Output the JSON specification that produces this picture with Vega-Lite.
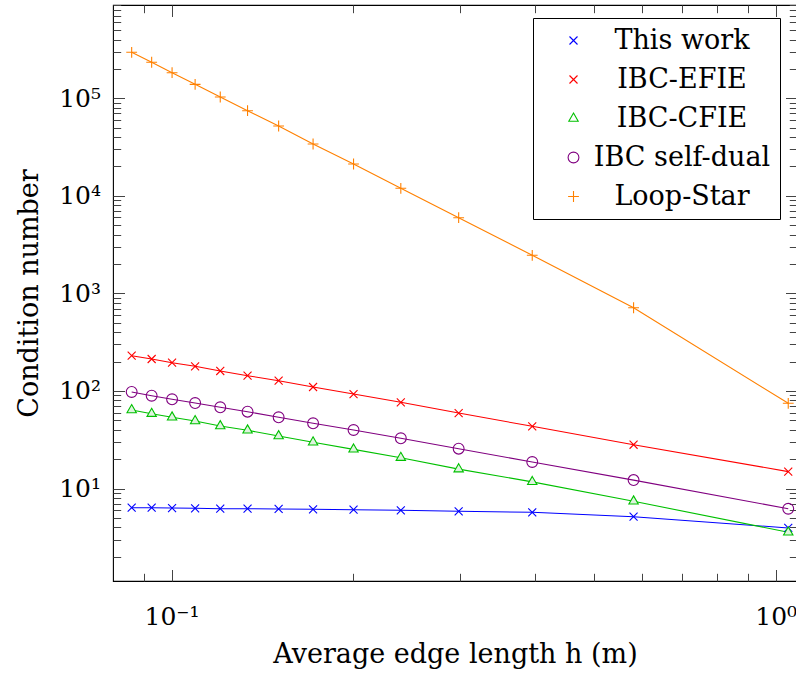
{
  "$schema": "https://vega.github.io/schema/vega-lite/v6.json",
  "autosize": {"type": "none"},
  "width": 684,
  "height": 576,
  "padding": {"left": 113, "top": 5, "right": 0, "bottom": 92},
  "background": "white",
  "config": {
    "view": {"stroke": "#000000", "strokeWidth": 1.1},
    "font": "DejaVu Serif",
    "axis": {"domain": false, "grid": false, "tickColor": "#444444", "tickWidth": 1, "labelFont": "DejaVu Serif", "titleFont": "DejaVu Serif", "labelColor": "#000000", "titleColor": "#000000", "titleFontWeight": "normal"}
  },
  "data": {
    "values": [
      {"series": "This work", "h": 0.0859, "k": 6.36},
      {"series": "This work", "h": 0.0927, "k": 6.36},
      {"series": "This work", "h": 0.1002, "k": 6.31},
      {"series": "This work", "h": 0.1094, "k": 6.27},
      {"series": "This work", "h": 0.1204, "k": 6.21},
      {"series": "This work", "h": 0.1336, "k": 6.21},
      {"series": "This work", "h": 0.1504, "k": 6.17},
      {"series": "This work", "h": 0.1715, "k": 6.12},
      {"series": "This work", "h": 0.2001, "k": 6.06},
      {"series": "This work", "h": 0.2396, "k": 5.98},
      {"series": "This work", "h": 0.2987, "k": 5.84},
      {"series": "This work", "h": 0.3954, "k": 5.70},
      {"series": "This work", "h": 0.5818, "k": 5.14},
      {"series": "This work", "h": 1.049, "k": 3.94},
      {"series": "IBC-EFIE", "h": 0.0859, "k": 229.8},
      {"series": "IBC-EFIE", "h": 0.0927, "k": 212.6},
      {"series": "IBC-EFIE", "h": 0.1002, "k": 194.8},
      {"series": "IBC-EFIE", "h": 0.1094, "k": 178.9},
      {"series": "IBC-EFIE", "h": 0.1204, "k": 160.2},
      {"series": "IBC-EFIE", "h": 0.1336, "k": 143.3},
      {"series": "IBC-EFIE", "h": 0.1504, "k": 127.4},
      {"series": "IBC-EFIE", "h": 0.1715, "k": 109.8},
      {"series": "IBC-EFIE", "h": 0.2001, "k": 93.0},
      {"series": "IBC-EFIE", "h": 0.2396, "k": 76.5},
      {"series": "IBC-EFIE", "h": 0.2987, "k": 59.4},
      {"series": "IBC-EFIE", "h": 0.3954, "k": 43.4},
      {"series": "IBC-EFIE", "h": 0.5818, "k": 28.1},
      {"series": "IBC-EFIE", "h": 1.049, "k": 14.9},
      {"series": "IBC-CFIE", "h": 0.0859, "k": 63.8},
      {"series": "IBC-CFIE", "h": 0.0927, "k": 58.5},
      {"series": "IBC-CFIE", "h": 0.1002, "k": 53.7},
      {"series": "IBC-CFIE", "h": 0.1094, "k": 49.2},
      {"series": "IBC-CFIE", "h": 0.1204, "k": 43.7},
      {"series": "IBC-CFIE", "h": 0.1336, "k": 39.5},
      {"series": "IBC-CFIE", "h": 0.1504, "k": 34.5},
      {"series": "IBC-CFIE", "h": 0.1715, "k": 29.8},
      {"series": "IBC-CFIE", "h": 0.2001, "k": 25.2},
      {"series": "IBC-CFIE", "h": 0.2396, "k": 20.7},
      {"series": "IBC-CFIE", "h": 0.2987, "k": 15.8},
      {"series": "IBC-CFIE", "h": 0.3954, "k": 11.7},
      {"series": "IBC-CFIE", "h": 0.5818, "k": 7.4},
      {"series": "IBC-CFIE", "h": 1.049, "k": 3.56},
      {"series": "IBC self-dual", "h": 0.0859, "k": 97.6},
      {"series": "IBC self-dual", "h": 0.0927, "k": 89.4},
      {"series": "IBC self-dual", "h": 0.1002, "k": 82.1},
      {"series": "IBC self-dual", "h": 0.1094, "k": 75.2},
      {"series": "IBC self-dual", "h": 0.1204, "k": 68.0},
      {"series": "IBC self-dual", "h": 0.1336, "k": 61.3},
      {"series": "IBC self-dual", "h": 0.1504, "k": 53.7},
      {"series": "IBC self-dual", "h": 0.1715, "k": 46.6},
      {"series": "IBC self-dual", "h": 0.2001, "k": 39.8},
      {"series": "IBC self-dual", "h": 0.2396, "k": 32.7},
      {"series": "IBC self-dual", "h": 0.2987, "k": 25.6},
      {"series": "IBC self-dual", "h": 0.3954, "k": 18.7},
      {"series": "IBC self-dual", "h": 0.5818, "k": 12.2},
      {"series": "IBC self-dual", "h": 1.049, "k": 6.2},
      {"series": "Loop-Star", "h": 0.0859, "k": 296000},
      {"series": "Loop-Star", "h": 0.0927, "k": 234000},
      {"series": "Loop-Star", "h": 0.1002, "k": 183000},
      {"series": "Loop-Star", "h": 0.1094, "k": 139000},
      {"series": "Loop-Star", "h": 0.1204, "k": 103000},
      {"series": "Loop-Star", "h": 0.1336, "k": 74600},
      {"series": "Loop-Star", "h": 0.1504, "k": 52000},
      {"series": "Loop-Star", "h": 0.1715, "k": 34000},
      {"series": "Loop-Star", "h": 0.2001, "k": 21200},
      {"series": "Loop-Star", "h": 0.2396, "k": 11950},
      {"series": "Loop-Star", "h": 0.2987, "k": 5970},
      {"series": "Loop-Star", "h": 0.3954, "k": 2458},
      {"series": "Loop-Star", "h": 0.5818, "k": 713},
      {"series": "Loop-Star", "h": 1.049, "k": 74.7}
    ]
  },
  "resolve": {"axis": {"x": "independent", "y": "independent"}},
  "layer": [
    {
      "mark": {"type": "line", "strokeWidth": 1.1},
      "encoding": {
        "x": {"field": "h", "type": "quantitative",
          "scale": {"type": "log", "domain": [0.08, 1.0846], "nice": false},
          "axis": {"orient": "bottom", "values": [0.1, 1], "tickSize": -11.5, "labelPadding": 35,
            "labelExpr": "datum.value < 0.5 ? '10⁻¹' : '10⁰'", "labelFontSize": 25, "labelFlush": false,
            "title": "Average edge length h (m)", "titleFontSize": 27, "titlePadding": 12}},
        "y": {"field": "k", "type": "quantitative",
          "scale": {"type": "log", "domain": [1.127, 904000], "nice": false},
          "axis": {"orient": "left", "values": [10, 100, 1000, 10000, 100000], "tickSize": -11.5, "labelPadding": 24,
            "labelExpr": "'10' + ['⁰','¹','²','³','⁴','⁵'][round(log(datum.value)/LN10)]", "labelFontSize": 25, "labelFlush": false,
            "title": "Condition number", "titleFontSize": 27, "titlePadding": 15}},
        "color": {"field": "series", "type": "nominal",
          "scale": {"domain": ["This work", "IBC-EFIE", "IBC-CFIE", "IBC self-dual", "Loop-Star"],
                    "range": ["#0000ff", "#ff0000", "#00c000", "#800080", "#ff8000"]},
          "legend": {"orient": "none", "legendX": 420, "legendY": 13, "direction": "vertical", "title": null,
            "fillColor": "#ffffff", "strokeColor": "#000000", "padding": 9,
            "symbolSize": 117, "symbolStrokeWidth": 1.1, "symbolOffset": 18, "rowPadding": 11,
            "labelFont": "DejaVu Serif", "labelFontSize": 27, "labelAlign": "center", "labelOffset": 95, "labelLimit": 0, "labelColor": "#000000"}}
      }
    },
    {
      "mark": {"type": "point", "filled": false, "strokeWidth": 1.1, "opacity": 1},
      "encoding": {
        "x": {"field": "h", "type": "quantitative",
          "axis": {"orient": "bottom", "values": [0.09, 0.2, 0.3, 0.4, 0.5, 0.6, 0.7, 0.8, 0.9], "tickSize": -7.7, "labels": false, "title": null}},
        "y": {"field": "k", "type": "quantitative",
          "axis": {"orient": "left", "values": [2,3,4,5,6,7,8,9,20,30,40,50,60,70,80,90,200,300,400,500,600,700,800,900,2000,3000,4000,5000,6000,7000,8000,9000,20000,30000,40000,50000,60000,70000,80000,90000,200000,300000,400000,500000,600000,700000,800000,900000], "tickSize": -7.7, "labels": false, "title": null}},
        "color": {"field": "series", "type": "nominal", "legend": null},
        "shape": {"field": "series", "type": "nominal", "legend": null,
          "scale": {"domain": ["This work", "IBC-EFIE", "IBC-CFIE", "IBC self-dual", "Loop-Star"],
                    "range": ["M-0.74,-0.74L0.74,0.74M-0.74,0.74L0.74,-0.74", "M-0.74,-0.74L0.74,0.74M-0.74,0.74L0.74,-0.74", "M0,-1L0.866,0.5L-0.866,0.5Z", "circle", "M-1,0H1M0,-1V1"]}},
        "size": {"value": 117},
        "fill": {"condition": {"test": "datum.series === 'IBC-CFIE'", "value": "#dff3df"}, "value": "transparent"}
      }
    },
    {
      "mark": {"type": "point", "opacity": 0},
      "encoding": {
        "x": {"field": "h", "type": "quantitative",
          "axis": {"orient": "top", "values": [0.1, 1], "tickSize": -11.5, "labels": false, "title": null}},
        "y": {"field": "k", "type": "quantitative",
          "axis": {"orient": "right", "values": [10, 100, 1000, 10000, 100000], "tickSize": -11.5, "labels": false, "title": null}}
      }
    },
    {
      "mark": {"type": "point", "opacity": 0},
      "encoding": {
        "x": {"field": "h", "type": "quantitative",
          "axis": {"orient": "top", "values": [0.09, 0.2, 0.3, 0.4, 0.5, 0.6, 0.7, 0.8, 0.9], "tickSize": -7.7, "labels": false, "title": null}},
        "y": {"field": "k", "type": "quantitative",
          "axis": {"orient": "right", "values": [2,3,4,5,6,7,8,9,20,30,40,50,60,70,80,90,200,300,400,500,600,700,800,900,2000,3000,4000,5000,6000,7000,8000,9000,20000,30000,40000,50000,60000,70000,80000,90000,200000,300000,400000,500000,600000,700000,800000,900000], "tickSize": -7.7, "labels": false, "title": null}}
      }
    }
  ]
}
